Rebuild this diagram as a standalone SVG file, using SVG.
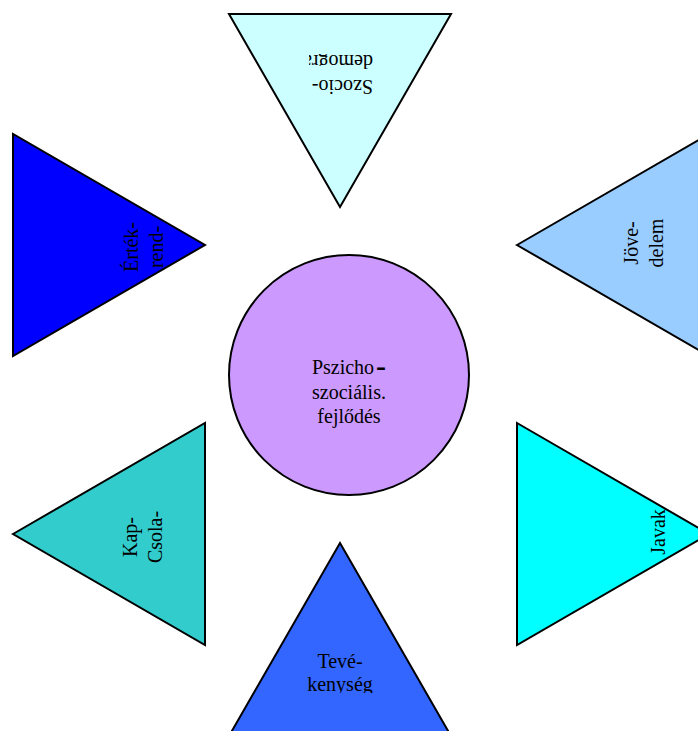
<svg xmlns="http://www.w3.org/2000/svg" width="698" height="731" viewBox="0 0 698 731">
<style>
.shape{stroke:#000;stroke-width:2;stroke-linejoin:miter}
.lbl{font-family:"Liberation Serif","Times New Roman",serif;font-size:20px;fill:#000}
</style>
<defs>
<clipPath id="clipTop"><rect x="309" y="54" width="70" height="60"/></clipPath>
<clipPath id="clipBottom"><rect x="229" y="600" width="222" height="93"/></clipPath>
</defs>
<rect width="698" height="731" fill="#fff"/>
<g id="connectors"/>
<g id="node-top">
<polygon class="shape" points="229,14 451,14 340,207" fill="#CCFFFF"/>
<g clip-path="url(#clipTop)">
<g transform="translate(373,80) rotate(180)">
<text class="lbl" x="0" y="0">Szocio-</text>
<text class="lbl" x="0" y="25">demográfiai</text>
</g>
</g>
</g>
<g id="node-left-top">
<polygon class="shape" points="13,134 13,356 205,245" fill="#0000FF"/>
<g transform="translate(138,247) rotate(-90)">
<text class="lbl" x="0" y="0" text-anchor="middle">Érték-</text>
<text class="lbl" x="0" y="25" text-anchor="middle">rend-</text>
</g>
</g>
<g id="node-right-top">
<polygon class="shape" points="517,245 709,134 709,356" fill="#99CCFF"/>
<g transform="translate(638,243) rotate(-90)">
<text class="lbl" x="0" y="0" text-anchor="middle">Jöve-</text>
<text class="lbl" x="0" y="25" text-anchor="middle">delem</text>
</g>
</g>
<g id="node-left-bottom">
<polygon class="shape" points="13,534 205,423 205,645" fill="#33CCCC"/>
<g transform="translate(137,537) rotate(-90)">
<text class="lbl" x="0" y="0" text-anchor="middle">Kap-</text>
<text class="lbl" x="0" y="25" text-anchor="middle">Csola-</text>
</g>
</g>
<g id="node-right-bottom">
<polygon class="shape" points="517,423 709,534 517,645" fill="#00FFFF"/>
<g transform="translate(665,532) rotate(-90)">
<text class="lbl" x="0" y="0" text-anchor="middle">Javak</text>
</g>
</g>
<g id="node-bottom">
<polygon class="shape" points="340,543 451,736 229,736" fill="#3366FF"/>
<g clip-path="url(#clipBottom)">
<text class="lbl" x="340" y="668" text-anchor="middle">Tevé-</text>
<text class="lbl" x="340" y="691" text-anchor="middle">kenység</text>
</g>
</g>
<g id="node-center">
<circle class="shape" cx="349" cy="375" r="120" fill="#CC99FF"/>
<text class="lbl" x="349" y="374" text-anchor="middle">Pszicho<tspan font-weight="bold" font-size="30" dx="2" dy="2">-</tspan></text>
<text class="lbl" x="349" y="399" text-anchor="middle">szociális.</text>
<text class="lbl" x="349" y="423" text-anchor="middle">fejlődés</text>
</g>
</svg>
